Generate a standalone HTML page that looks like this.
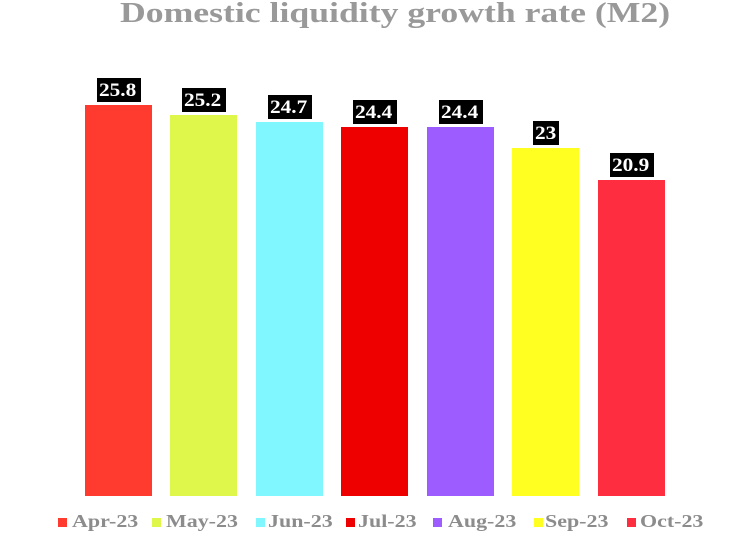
<!DOCTYPE html>
<html><head><style>
body{margin:0;width:750px;height:536px;background:#fff;position:relative;overflow:hidden;font-family:"Liberation Serif",serif}
.t{position:absolute;left:120px;top:-3px;font-size:29px;font-weight:bold;color:#999;white-space:nowrap;transform:scaleX(1.23);transform-origin:left}
.b{position:absolute;bottom:40px;width:67px}
.l{position:absolute;background:#000;height:24px}
.l span{position:absolute;left:2px;top:0;color:#fff;font-weight:bold;font-size:19px;line-height:25px;transform:scaleX(1.12);transform-origin:left;white-space:nowrap}
.sq{position:absolute;top:518px;width:9px;height:9px}
.lg{position:absolute;top:511px;font-size:18px;font-weight:bold;color:#8c8c8c;white-space:nowrap;transform:scaleX(1.22);transform-origin:left}
</style></head><body>
<div class="t">Domestic liquidity growth rate (M2)</div>
<div class="b" style="left:85px;top:105px;background:#ff3b2f"></div>
<div class="b" style="left:170px;top:115px;background:#dff64a"></div>
<div class="b" style="left:256px;top:122px;background:#80f6ff"></div>
<div class="b" style="left:341px;top:127px;background:#ee0000"></div>
<div class="b" style="left:427px;top:127px;background:#9d5cff"></div>
<div class="b" style="left:512px;top:148px;background:#ffff22"></div>
<div class="b" style="left:598px;top:180px;background:#ff2d40"></div>
<div class="l" style="left:97px;top:78px;width:44px"><span>25.8</span></div>
<div class="l" style="left:182px;top:88px;width:44px"><span>25.2</span></div>
<div class="l" style="left:268px;top:95px;width:44px"><span>24.7</span></div>
<div class="l" style="left:353px;top:100px;width:44px"><span>24.4</span></div>
<div class="l" style="left:439px;top:100px;width:44px"><span>24.4</span></div>
<div class="l" style="left:533px;top:121px;width:26px"><span>23</span></div>
<div class="l" style="left:610px;top:153px;width:44px"><span>20.9</span></div>
<div class="sq" style="left:58px;background:#ff3b2f"></div><div class="lg" style="left:72px">Apr-23</div>
<div class="sq" style="left:152px;background:#dff64a"></div><div class="lg" style="left:166px">May-23</div>
<div class="sq" style="left:256px;background:#80f6ff"></div><div class="lg" style="left:268px">Jun-23</div>
<div class="sq" style="left:346px;background:#ee0000"></div><div class="lg" style="left:358px">Jul-23</div>
<div class="sq" style="left:433px;background:#9d5cff"></div><div class="lg" style="left:448px">Aug-23</div>
<div class="sq" style="left:534px;background:#ffff22"></div><div class="lg" style="left:545px">Sep-23</div>
<div class="sq" style="left:627px;background:#ff2d40"></div><div class="lg" style="left:640px">Oct-23</div>
</body></html>
